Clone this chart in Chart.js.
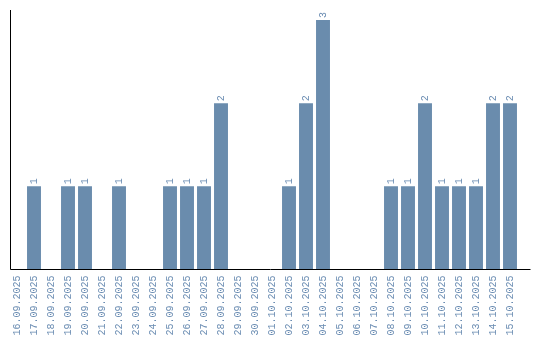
<!DOCTYPE html>
<html>
<head>
<meta charset="utf-8">
<script src="https://cdn.jsdelivr.net/npm/chart.js@4/dist/chart.umd.min.js"></script>
<style>
  html, body { margin: 0; padding: 0; background: #fff; }
  canvas { display: block; }
</style>
</head>
<body>
<canvas id="graph" width="540" height="340"></canvas>
<script>
// dates et nombre par jour
var dates = ["16.09.2025","17.09.2025","18.09.2025","19.09.2025","20.09.2025","21.09.2025","22.09.2025","23.09.2025","24.09.2025","25.09.2025","26.09.2025","27.09.2025","28.09.2025","29.09.2025","30.09.2025","01.10.2025","02.10.2025","03.10.2025","04.10.2025","05.10.2025","06.10.2025","07.10.2025","08.10.2025","09.10.2025","10.10.2025","11.10.2025","12.10.2025","13.10.2025","14.10.2025","15.10.2025"]
var counts = [0,1,0,1,1,0,1,0,0,1,1,1,2,0,0,0,1,2,3,0,0,0,1,1,2,1,1,1,2,2]

var barColor = "#6a8cad"
var textColor = "#6a8cb2"
var monoFont = "'Liberation Mono', 'DejaVu Sans Mono', monospace"

// les lignes des axes (gauche et bas)
const axisLines = {
    id: 'axisLines',
    afterDraw: (chart) => {
      const {ctx, chartArea} = chart;
      ctx.save();
      ctx.strokeStyle = '#000';
      ctx.lineWidth = 1;
      ctx.beginPath();
      ctx.moveTo(chartArea.left + 2, chartArea.top);
      ctx.lineTo(chartArea.left + 2, chartArea.bottom);
      ctx.lineTo(chartArea.right + 12, chartArea.bottom);
      ctx.stroke();
      ctx.restore();
    }
  };

// valeurs au dessus des barres, tournées
const valueLabels = {
    id: 'valueLabels',
    afterDatasetsDraw: (chart) => {
      const {ctx} = chart;
      const meta = chart.getDatasetMeta(0);
      ctx.save();
      ctx.fillStyle = textColor;
      ctx.font = "10px " + monoFont;
      ctx.textAlign = 'left';
      ctx.textBaseline = 'middle';
      meta.data.forEach((bar, i) => {
        if (!counts[i]) return;
        ctx.save();
        ctx.translate(bar.x, bar.y - 2);
        ctx.rotate(-Math.PI / 2);
        ctx.fillText(String(counts[i]), 0, 0);
        ctx.restore();
      });
      ctx.restore();
    }
  };

var config = {
    type: 'bar',
    data: {
        labels: dates,
        datasets: [{
            data: counts,
            backgroundColor: barColor,
            borderWidth: 0,
            categoryPercentage: 1,
            barPercentage: 0.82
        }]
    },
    options: {
        responsive: false,
        animation: false,
        layout: { padding: { left: 8.5, right: 21.5, top: 10, bottom: 0 } },
        plugins: {
            legend: { display: false },
            tooltip: { enabled: false }
        },
        scales: {
            x: {
                grid: { display: false, drawTicks: false },
                border: { display: false },
                afterFit: (s) => { s.height = 70.5 },
                ticks: {
                    autoSkip: false,
                    maxRotation: 90,
                    minRotation: 90,
                    padding: 6,
                    color: textColor,
                    font: { family: monoFont, size: 10 }
                }
            },
            y: {
                display: false,
                min: 0,
                max: 3.12
            }
        }
    },
    plugins: [axisLines, valueLabels]
}

var chart = new Chart(document.getElementById('graph'), config)
</script>
</body>
</html>
